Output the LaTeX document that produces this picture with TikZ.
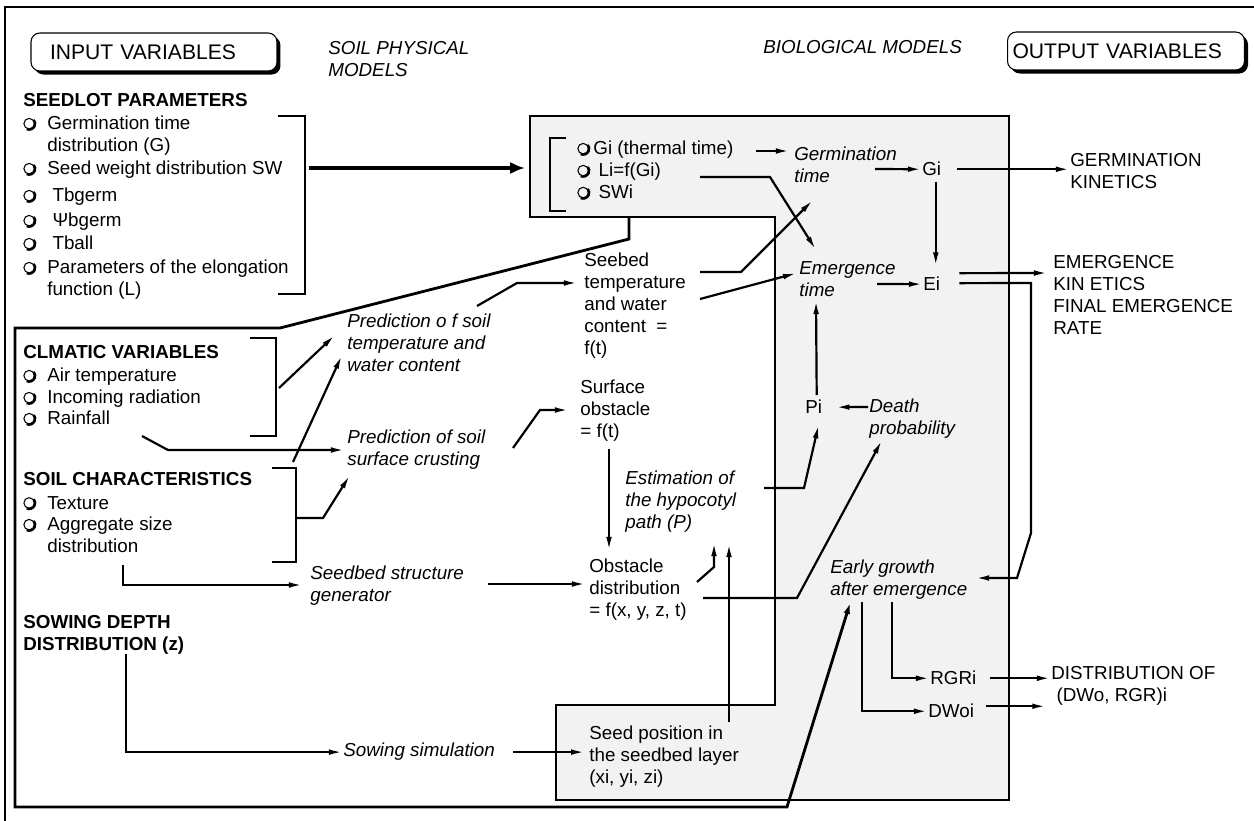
\documentclass[tikz,border=0pt]{standalone}
\usepackage{fontspec}
\setmainfont{Liberation Sans}
\usetikzlibrary{calc, arrows.meta, shadows}

\newcommand\body{\fontsize{10.7}{12.5}\selectfont}
\newsavebox\bulbox
\sbox\bulbox{\tikz[baseline=-3.6pt]{%
  \draw[line width=0.6pt] (0,0) circle (3pt);
  \draw[line width=1.4pt] (-115:3.4pt) arc (-115:40:3.4pt);}}
\newcommand\bul{\usebox\bulbox}
\newcommand\bi{\bul\hspace{6pt}}
\newcommand\hang{\hphantom{\bi}}

\begin{document}
\begin{tikzpicture}[x=0.02cm, y=-0.02cm,
  txt/.style={anchor=north west, inner sep=0pt, align=left, font=\body},
  itxt/.style={txt, font=\body\itshape},
  hdr/.style={txt, font=\body\bfseries},
  hbox/.style={draw, rounded corners=5pt, fill=white, line width=0.6pt, minimum height=0.76cm, inner ysep=0pt, align=left, font=\fontsize{12}{14}\selectfont, drop shadow={shadow xshift=2pt, shadow yshift=-2pt, fill=black, opacity=1}},
  arr/.style={-{Latex[length=8pt,width=3.2pt]}, line width=1.25pt},
  bigarr/.style={-{Latex[length=8.5pt,width=7pt]}, line width=2.4pt},
  brk/.style={line width=0.7pt},
  zone/.style={fill=black!5, draw, line width=0.6pt},
  rim/.style={line width=1.6pt},
]
  \useasboundingbox (0,0) rectangle (1254,821);

  % frame and shaded biological zone
  \draw[line width=0.6pt] (5,821) -- (5,7) -- (1254,7);
  \draw[zone] (530,116) -- (1009,116) -- (1009,800) -- (556,800) -- (556,705)
    -- (775,705) -- (775,217) -- (530,217) -- cycle;

  % column titles
  \node[hbox, inner xsep=0.38cm, text width=4.16cm] (inv) at (154,52) {INPUT VARIABLES};
  \node[hbox, inner xsep=0.1cm, text width=4.54cm] (outv) at (1126,51) {OUTPUT VARIABLES};
  \node[itxt] (spm) at (328,41) {SOIL PHYSICAL\\MODELS};
  \node[itxt] (bm) at (763,40) {BIOLOGICAL MODELS};

  % seedlot
  \node[hdr] (slp) at (23,93) {SEEDLOT PARAMETERS};
  \node[txt] (sl1) at (23,116) {\bi Germination time\\\hang distribution (G)};
  \node[txt] (sl2) at (23,161) {\bi Seed weight distribution SW};
  \node[txt] (sl3) at (23,188) {\bi\ Tbgerm};
  \node[txt] (sl4) at (23,213) {\bi\ Ψbgerm};
  \node[txt] (sl5) at (23,236) {\bi\ Tball};
  \node[txt] (sl6) at (23,260) {\bi Parameters of the elongation\\\hang function (L)};

  % climate
  \node[hdr] (cv) at (23,345) {CLMATIC VARIABLES};
  \node[txt] (cv1) at (23,368) {\bi Air temperature};
  \node[txt] (cv2) at (23,390) {\bi Incoming radiation};
  \node[txt] (cv3) at (23,411) {\bi Rainfall};

  % soil
  \node[hdr] (sc) at (23,472) {SOIL CHARACTERISTICS};
  \node[txt] (sc1) at (23,496) {\bi Texture};
  \node[txt] (sc2) at (23,517) {\bi Aggregate size\\\hang distribution};
  \node[hdr] (sd) at (23,615) {SOWING DEPTH\\DISTRIBUTION (z)};

  % soil physical models
  \node[itxt] (pst) at (347,314) {Prediction o f soil\\temperature and\\water content};
  \node[itxt] (psc) at (347,430) {Prediction of soil\\surface crusting};
  \node[itxt] (ssg) at (310,566) {Seedbed structure\\generator};
  \node[itxt] (sow) at (343,743) {Sowing simulation};
  \node[txt] (stw) at (584,253) {Seebed\\temperature\\and water\\content \ =\\f(t)};
  \node[txt] (sob) at (580,380) {Surface\\obstacle\\= f(t)};
  \node[txt] (obd) at (589,559) {Obstacle\\distribution\\= f(x, y, z, t)};
  \node[txt] (spos) at (589,726) {Seed position in\\the seedbed layer\\(xi, yi, zi)};

  % biological models
  \node[txt] (gls) at (577,141) {\bul\hspace{1.5pt}Gi (thermal time)\\\bul\hspace{4.5pt}Li=f(Gi)\\\bul\hspace{4.5pt}SWi};
  \node[itxt] (est) at (625,471) {Estimation of\\the hypocotyl\\path (P)};
  \node[itxt] (gt) at (794,147) {Germination\\time};
  \node[itxt] (et) at (799,261) {Emergence\\time};
  \node[txt] (gi) at (922,162) {Gi};
  \node[txt] (ei) at (923,277) {Ei};
  \node[txt] (pi) at (805,400) {Pi};
  \node[itxt] (dp) at (869,399) {Death\\probability};
  \node[itxt] (eg) at (830,560) {Early growth\\after emergence};
  \node[txt] (rgr) at (930,671) {RGRi};
  \node[txt] (dwo) at (928,704) {DWoi};

  % outputs
  \node[txt] (gk) at (1070,153) {GERMINATION\\KINETICS};
  \node[txt] (ek) at (1053,255) {EMERGENCE\\KIN ETICS\\FINAL EMERGENCE\\RATE};
  \node[txt] (dist) at (1051,666) {DISTRIBUTION OF\\\hspace{3pt}(DWo, RGR)i};

  % brackets
  \draw[brk] (278,116) -| (305,294) -- (278,294);
  \draw[brk] (250,338) -| (276,436) -- (250,436);
  \draw[brk] (272,468) -| (296,562) -- (272,562);
  \draw[brk] (566,138) -| (550,211) -- (566,211);
  \coordinate (slb) at (309,168);
  \coordinate (gin) at (525,168);
  \coordinate (cvb) at (279,388);
  \coordinate (scb) at (293,462);
  \coordinate (scm) at (296,518);
  \coordinate (gout) at (629,217);

  % inputs region feeding early growth
  \draw[rim, -{Latex[length=8pt,width=3.5pt]}] (gout) -- (629,239) -- (280,328) -- (15,328)
    -- (15,807) -- (787,807) -- ($(eg.north west)+(21,40)$);

  % arrows
  \draw[bigarr] (slb) -- (gin);
  \draw[arr] (cvb) -- ($(pst.north west)+(-12,21)$);
  \draw[arr] (scb) -- ($(pst.north west)+(-5,41)$);
  \draw[arr] ($(cv3.north west)+(119,25)$) -- (168,450) -- ($(psc.north west)+(-2,20)$);
  \draw[arr] (scm) -- (323,518) -- ($(psc.north west)+(3,45)$);
  \draw[arr] ($(sc2.north west)+(100,48)$) |- ($(ssg.north west)+(-7,19)$);
  \draw[arr] ($(sd.north west)+(103,39)$) |- (sow.west);
  \draw[arr] ($(pst.north west)+(130,-8)$) -- (517,283) -- ($(stw.north west)+(-6,30)$);
  \draw[arr] ($(psc.north west)+(166,18)$) -- (540,410) -- ($(sob.north west)+(-11,30)$);
  \draw[arr] ($(ssg.north west)+(178,18)$) -- ($(obd.north west)+(-3,25)$);
  \draw[arr] ($(sow.east)+(18,0)$) -- ++(72,0);
  \draw[arr] ($(sob.north west)+(29,69)$) -- ($(obd.north west)+(20,-8)$);
  \draw[arr] ($(obd.north west)+(108,23)$) -- (714,567) -- ($(est.north west)+(89,71)$);
  \draw[arr] ($(spos.north west)+(140,-4)$) -- ($(est.north west)+(104,72)$);
  \draw[arr] ($(obd.north west)+(114,39)$) -- (797,598) -- ($(dp.north west)+(13,41)$);
  \draw[arr] ($(gls.north west)+(179,10)$) -- ($(gt.north west)+(-4,4)$);
  \draw[arr] ($(gls.north west)+(123,36)$) -- (770,177) -- ($(et.north west)+(17,-11)$);
  \draw[arr] ($(stw.north west)+(116,19)$) -- (741,272) -- ($(gt.north west)+(19,53)$);
  \draw[arr] ($(stw.north west)+(116,46)$) -- ($(et.north west)+(-2,12)$);
  \draw[arr] ($(gt.north west)+(81,22)$) -- (gi.west);
  \draw[arr] ($(gi.east)+(15,0)$) -- (gi.east -| gk.west);
  \draw[arr] ($(gi.south)+(4,5)$) -- ++(0,85);
  \draw[arr] ($(et.north west)+(78,23)$) -- (ei.west);
  \draw[arr] ($(ei.east)+(19,-11)$) -- ($(ek.north west)+(-5,18)$);
  \draw[arr] ($(ei.east)+(19,-1)$) -- (1031,283) -- (1031,533) -- (1017,578)
    -- ($(eg.north west)+(145,18)$);
  \draw[arr] ($(pi.north)+(3,-5)$) -- ($(et.north west)+(17,39)$);
  \draw[arr] ($(dp.north west)+(-1,8)$) -- ($(pi.east)+(13,0)$);
  \draw[arr] ($(est.north west)+(139,17)$) -- (804,488) -- ($(pi.south)+(5,10)$);
  \draw[arr] ($(eg.north west)+(62,42)$) |- (rgr.west);
  \draw[arr] ($(eg.north west)+(32,42)$) |- (dwo.west);
  \draw[arr] ($(rgr.east)+(13,0)$) -- (rgr.east -| dist.west);
  \draw[arr] ($(dwo.east)+(12,-5)$) -- ++(60,0);
\end{tikzpicture}
\end{document}
